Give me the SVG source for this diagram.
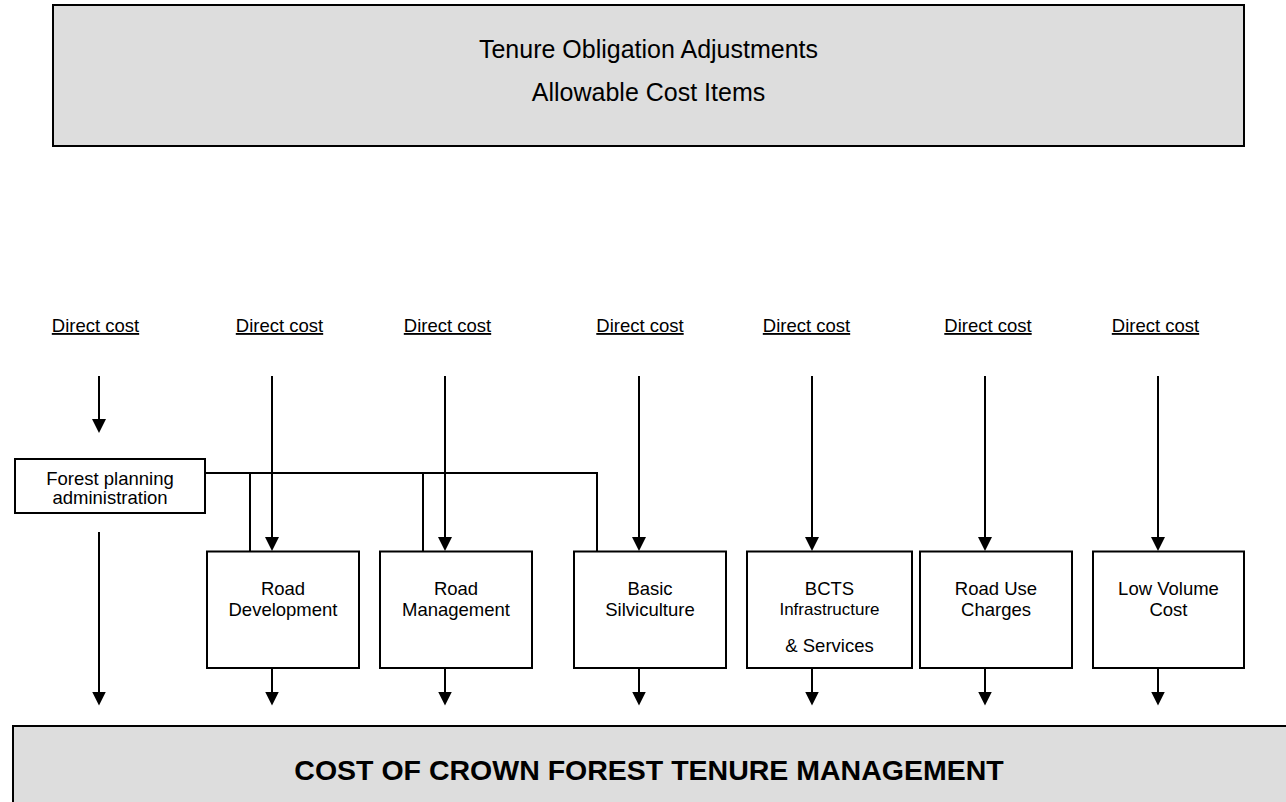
<svg xmlns="http://www.w3.org/2000/svg" width="1286" height="802" viewBox="0 0 1286 802">
<style>
  text { font-family: "Liberation Sans", Arial, sans-serif; fill: #000; }
  .band { fill: #dddddd; stroke: #000; stroke-width: 2; }
  .box { fill: #fff; stroke: #000; stroke-width: 2; }
  .title { font-size: 25px; text-anchor: middle; }
  .big { font-size: 28.5px; font-weight: bold; text-anchor: middle; }
  .dc { font-size: 18.5px; text-anchor: middle; text-decoration: underline; }
  .lbl { font-size: 18.5px; text-anchor: middle; }
  .sm { font-size: 17px; text-anchor: middle; }
  .ln { fill: none; stroke: #000; stroke-width: 2; }
  .ar { fill: none; stroke: #000; stroke-width: 2; marker-end: url(#ah); }
</style>
<defs>
  <marker id="ah" viewBox="0 0 14 14" refX="10" refY="7" markerWidth="14" markerHeight="14" markerUnits="userSpaceOnUse" orient="auto">
    <path d="M0,0 L14,7 L0,14 z" fill="#000"/>
  </marker>
</defs>
<rect width="1286" height="802" fill="#fff"/>

<g id="header">
  <rect class="band" x="53" y="5" width="1191" height="141"/>
  <text class="title" x="648.5" y="58">Tenure Obligation Adjustments</text>
  <text class="title" x="648.5" y="101">Allowable Cost Items</text>
</g>

<g id="direct-costs">
  <text class="dc" x="95.5" y="332">Direct cost</text>
  <text class="dc" x="279.5" y="332">Direct cost</text>
  <text class="dc" x="447.5" y="332">Direct cost</text>
  <text class="dc" x="640" y="332">Direct cost</text>
  <text class="dc" x="806.5" y="332">Direct cost</text>
  <text class="dc" x="988" y="332">Direct cost</text>
  <text class="dc" x="1155.5" y="332">Direct cost</text>
</g>

<g id="forest-planning">
  <rect class="box" x="15" y="459" width="190" height="54"/>
  <text class="lbl" x="110" y="485">Forest planning</text>
  <text class="lbl" x="110" y="504">administration</text>
</g>

<g id="road-development">
  <rect class="box" x="207" y="551.5" width="152" height="116.5"/>
  <text class="lbl" x="283" y="595">Road</text>
  <text class="lbl" x="283" y="616">Development</text>
</g>

<g id="road-management">
  <rect class="box" x="380" y="551.5" width="152" height="116.5"/>
  <text class="lbl" x="456" y="595">Road</text>
  <text class="lbl" x="456" y="616">Management</text>
</g>

<g id="basic-silviculture">
  <rect class="box" x="574" y="551.5" width="152" height="116.5"/>
  <text class="lbl" x="650" y="595">Basic</text>
  <text class="lbl" x="650" y="616">Silviculture</text>
</g>

<g id="bcts">
  <rect class="box" x="747" y="551.5" width="165" height="116.5"/>
  <text class="lbl" x="829.5" y="595">BCTS</text>
  <text class="sm" x="829.5" y="615">Infrastructure</text>
  <text class="lbl" x="829.5" y="652">&amp; Services</text>
</g>

<g id="road-use-charges">
  <rect class="box" x="920" y="551.5" width="152" height="116.5"/>
  <text class="lbl" x="996" y="595">Road Use</text>
  <text class="lbl" x="996" y="616">Charges</text>
</g>

<g id="low-volume-cost">
  <rect class="box" x="1093" y="551.5" width="151" height="116.5"/>
  <text class="lbl" x="1168.5" y="595">Low Volume</text>
  <text class="lbl" x="1168.5" y="616">Cost</text>
</g>

<g id="total">
  <path class="band" d="M1290,726 H13 V806"/>
  <rect x="14" y="727" width="1276" height="80" fill="#dddddd"/>
  <line x1="13" y1="726" x2="1290" y2="726" stroke="#000" stroke-width="2"/>
  <text class="big" x="649" y="780">COST OF CROWN FOREST TENURE MANAGEMENT</text>
</g>

<g id="connectors">
  <line class="ar" x1="99" y1="376" x2="99" y2="429"/>
  <line class="ar" x1="272" y1="376" x2="272" y2="547"/>
  <line class="ar" x1="445" y1="376" x2="445" y2="547"/>
  <line class="ar" x1="639" y1="376" x2="639" y2="547"/>
  <line class="ar" x1="812" y1="376" x2="812" y2="547"/>
  <line class="ar" x1="985" y1="376" x2="985" y2="547"/>
  <line class="ar" x1="1158" y1="376" x2="1158" y2="547"/>
  <path class="ln" d="M205,473 H597 V551.5 M250,473 V551.5 M423,473 V551.5"/>
  <line class="ar" x1="99" y1="532" x2="99" y2="701.5"/>
  <line class="ar" x1="272" y1="668" x2="272" y2="701.5"/>
  <line class="ar" x1="445" y1="668" x2="445" y2="701.5"/>
  <line class="ar" x1="639" y1="668" x2="639" y2="701.5"/>
  <line class="ar" x1="812" y1="668" x2="812" y2="701.5"/>
  <line class="ar" x1="985" y1="668" x2="985" y2="701.5"/>
  <line class="ar" x1="1158" y1="668" x2="1158" y2="701.5"/>
</g>
</svg>
